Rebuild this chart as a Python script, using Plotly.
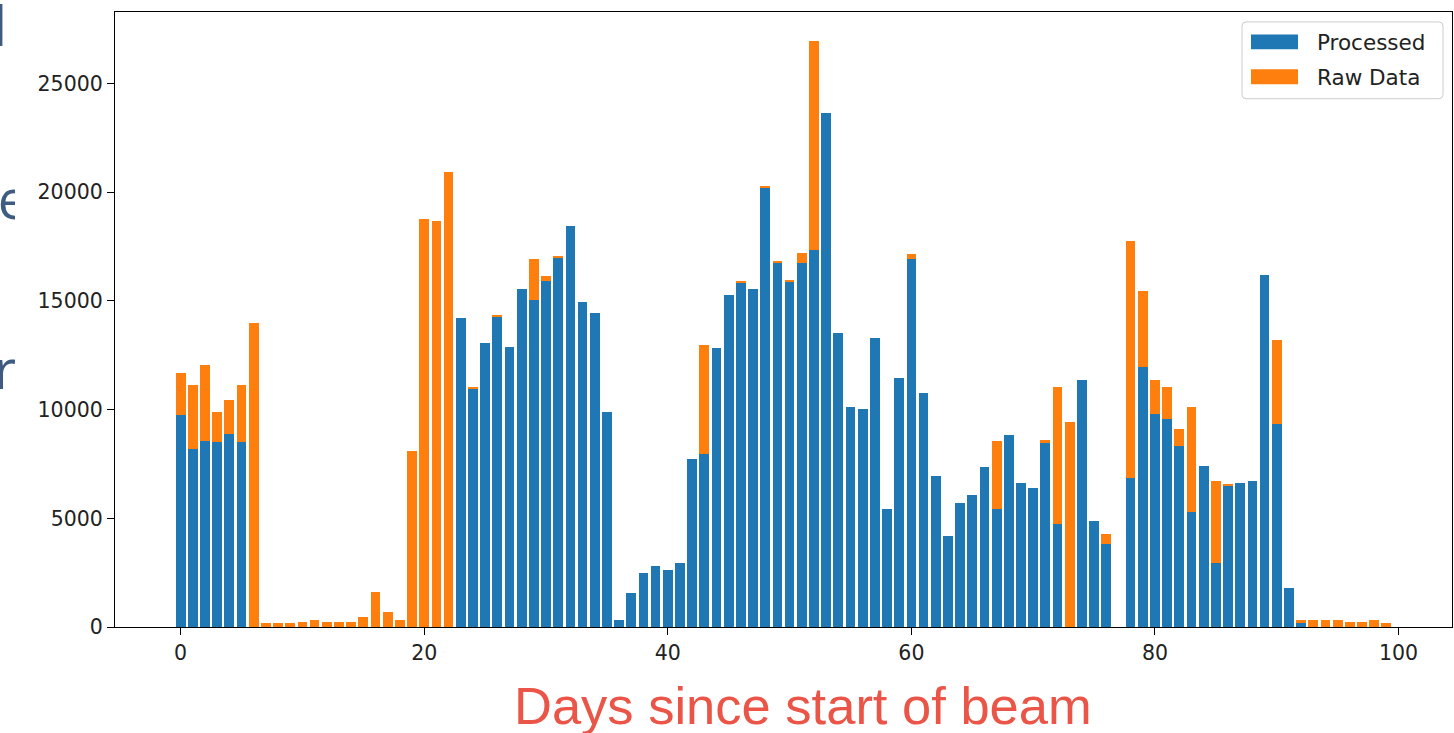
import plotly.graph_objects as go

# Day index since beam start
days = list(range(100))

# Events already processed per day
processed = [
    9740, 8200, 8580, 8500, 8880, 8500, 0, 0, 0, 0,
    0, 0, 0, 0, 0, 0, 0, 0, 0, 0,
    0, 0, 0, 14200, 10980, 13060, 14300, 12900, 15540, 15060,
    15920, 16990, 18440, 14970, 14430, 9880, 320, 1560, 2490, 2800,
    2650, 2950, 7720, 7970, 12830, 15290, 15830, 15530, 20210, 16760,
    15910, 16760, 17360, 23620, 13510, 10120, 10050, 13300, 5430, 11440,
    16930, 10760, 6970, 4210, 5730, 6060, 7370, 5430, 8840, 6610,
    6420, 8510, 4730, 0, 11360, 4880, 3810, 0, 6880, 11970,
    9820, 9590, 8350, 5280, 7420, 2950, 6510, 6650, 6710, 16210,
    9360, 1790, 180, 0, 0, 0, 0, 0, 0, 0,
]

# Raw data still waiting on top of the processed amount
raw_data = [
    1930, 2920, 3470, 1390, 1560, 2620, 13980, 180, 180, 180,
    260, 350, 260, 260, 260, 490, 1640, 720, 340, 8100,
    18760, 18670, 20920, 0, 60, 0, 70, 0, 0, 1850,
    210, 70, 0, 0, 0, 0, 0, 0, 0, 0,
    0, 0, 0, 5010, 0, 0, 60, 0, 90, 75,
    70, 460, 9580, 0, 0, 0, 0, 0, 0, 0,
    210, 0, 0, 0, 0, 0, 0, 3150, 0, 0,
    0, 80, 6310, 9430, 0, 0, 460, 0, 10870, 3470,
    1540, 1450, 760, 4830, 0, 3760, 65, 0, 0, 0,
    3840, 0, 160, 340, 340, 340, 260, 260, 340, 180,
]

series_names = ["Processed", "Raw Data"]
x_ticks = [0, 20, 40, 60, 80, 100]
y_ticks = [0, 5000, 10000, 15000, 20000, 25000]

W, H = 1454, 733          # visible page area
LAYOUT_H = H + 10         # figure height handed to plotly
BLUE = "#1f77b4"
ORANGE = "#ff7f0e"
TICK_FONT = dict(family="DejaVu Sans", size=20.5, color="#222222")
LEGEND_FONT = dict(family="DejaVu Sans", size=21.5, color="#222222")


def px(x):
    return x / W


def py(y):
    return 1 - y / H


fig = go.Figure()
for name, vals, col in zip(series_names, [processed, raw_data], [BLUE, ORANGE]):
    fig.add_trace(go.Bar(x=days, y=vals, name=name, width=0.8,
                         marker=dict(color=col, line=dict(width=0)),
                         showlegend=False))

# Slide text peeking in at the left edge, clipped to a narrow strip
fig.add_trace(go.Scatter(
    x=[-9.5, 13, 5], y=[33, 206, 377], text=["d", "e", "r"],
    mode="text", textposition="middle center", cliponaxis=True,
    textfont=dict(family="Open Sans", size=54, color="#3e5c80"),
    xaxis="x2", yaxis="y2", showlegend=False, hoverinfo="skip",
))

top = max(p + r for p, r in zip(processed, raw_data))

# Legend box with wide colour patches
shapes = [dict(
    type="path", xref="paper", yref="paper",
    path=(f"M {px(1246)},{py(22)} L {px(1439)},{py(22)} "
          f"Q {px(1443)},{py(22)} {px(1443)},{py(26)} "
          f"L {px(1443)},{py(95)} Q {px(1443)},{py(99)} {px(1439)},{py(99)} "
          f"L {px(1246)},{py(99)} Q {px(1242)},{py(99)} {px(1242)},{py(95)} "
          f"L {px(1242)},{py(26)} Q {px(1242)},{py(22)} {px(1246)},{py(22)} Z"),
    line=dict(color="#cccccc", width=1), fillcolor="rgba(255,255,255,0.85)",
    layer="above",
)]
annotations = []
for i, (name, col) in enumerate(zip(series_names, [BLUE, ORANGE])):
    yc = 42 + 35 * i
    shapes.append(dict(type="rect", xref="paper", yref="paper",
                       x0=px(1251), x1=px(1298), y0=py(yc - 7.5), y1=py(yc + 7.5),
                       fillcolor=col, line=dict(width=0), layer="above"))
    annotations.append(dict(text=name, xref="paper", yref="paper",
                            x=px(1315), y=py(yc + 0.5), xanchor="left",
                            yanchor="middle", showarrow=False,
                            font=LEGEND_FONT))

annotations.append(dict(
    text="Days since start of beam", xref="paper", yref="paper",
    x=px(803), y=py(707), xanchor="center", yanchor="middle",
    showarrow=False,
    font=dict(family="Liberation Sans", size=52.5, color="#ea5548"),
))

fig.update_layout(
    width=W, height=LAYOUT_H,
    margin=dict(l=0, r=0, t=0, b=0),
    paper_bgcolor="white", plot_bgcolor="white",
    barmode="stack",
    xaxis=dict(
        domain=[px(115), px(1452)],
        range=[-5.39, 104.39],
        tickvals=x_ticks, ticks="outside", ticklen=7, tickwidth=1.2,
        tickcolor="black", tickfont=TICK_FONT,
        showline=True, linecolor="black", linewidth=1.2, mirror=True,
        showgrid=False, zeroline=False,
    ),
    yaxis=dict(
        domain=[py(629), py(12)],
        range=[0, top * 1.05],
        tickvals=y_ticks, tickformat="d", ticks="outside", ticklen=7,
        tickwidth=1.2, tickcolor="black", tickfont=TICK_FONT,
        showline=True, linecolor="black", linewidth=1.2, mirror=True,
        showgrid=False, zeroline=False,
    ),
    xaxis2=dict(domain=[0, px(15)], range=[0, 15], visible=False,
                anchor="y2"),
    yaxis2=dict(domain=[0, 1], range=[H, 0], visible=False, anchor="x2"),
    shapes=shapes,
    annotations=annotations,
    showlegend=False,
)

fig.write_html("out.html")
